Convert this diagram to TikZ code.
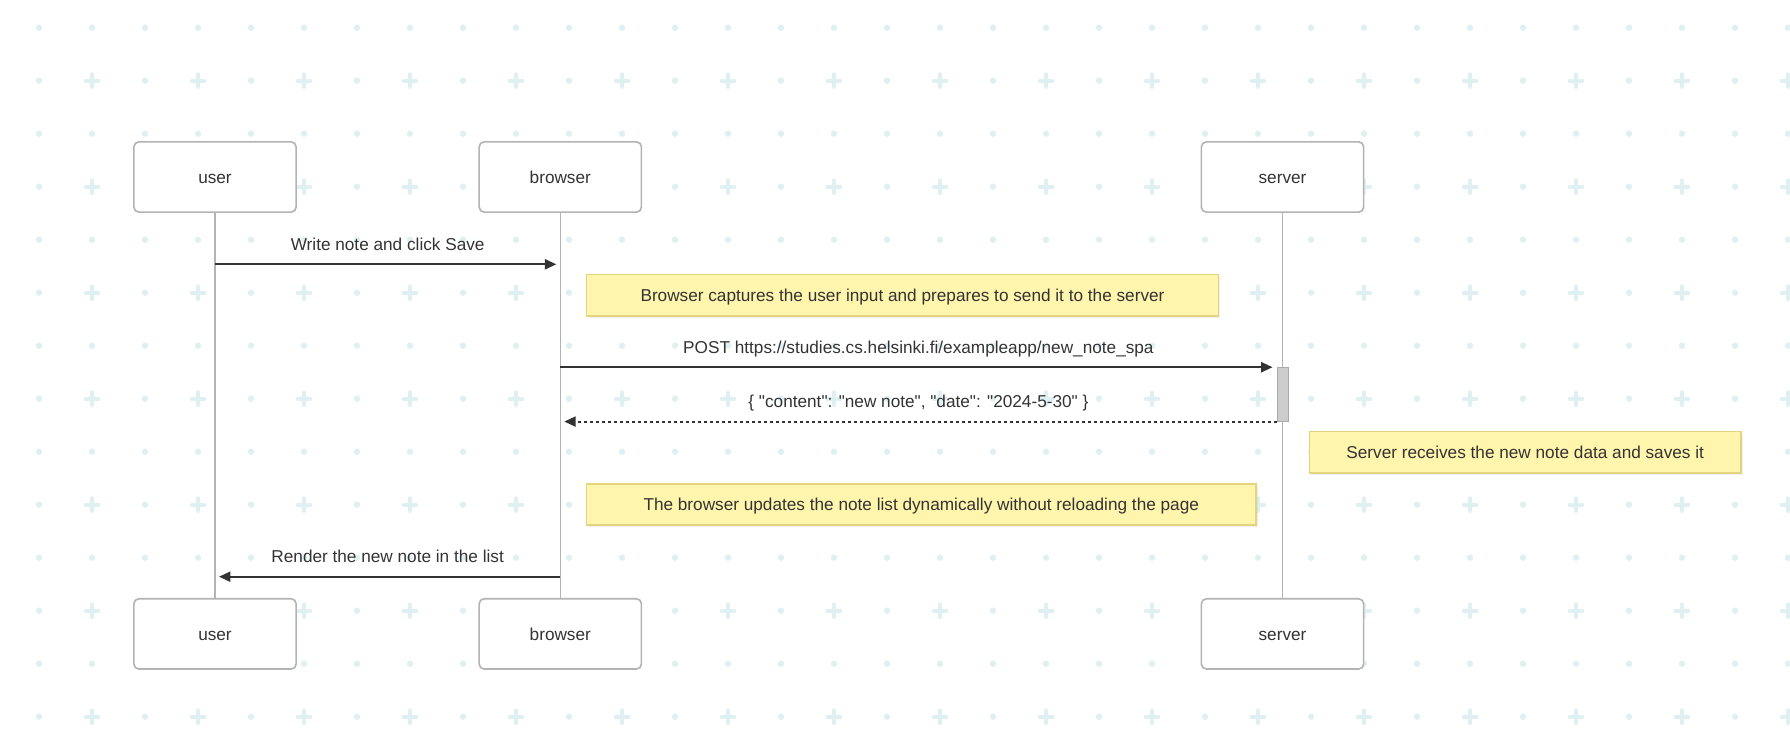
\documentclass[tikz,border=0pt]{standalone}
\usepackage{fontspec}
\setmainfont{Liberation Sans}[Ligatures=TeXOff]
\usetikzlibrary{arrows.meta,shadows}

\definecolor{gridc}{RGB}{223,240,243}
\definecolor{boxline}{RGB}{179,179,179}
\definecolor{ink}{RGB}{51,51,51}
\definecolor{notefill}{RGB}{255,245,173}
\definecolor{noteline}{RGB}{228,212,128}
\definecolor{actfill}{RGB}{204,204,204}
\definecolor{actline}{RGB}{170,170,170}

\begin{document}
\begin{tikzpicture}[x=0.75pt,y=-0.75pt,
  font=\fontsize{12.9}{15}\selectfont,
  actor/.style={draw=boxline, line width=1.2pt, fill=white, rounded corners=3.75pt,
    minimum width=121.7pt, minimum height=52.7pt, text=ink,
    text height=9.4pt, text depth=0pt, inner sep=0pt},
  note/.style={draw=noteline, line width=1.1pt, fill=notefill, text=ink,
    text height=9.4pt, text depth=0pt, inner sep=0pt,
    drop shadow={opacity=0.12, shadow xshift=1.5pt, shadow yshift=-1.5pt}},
  life/.style={draw=boxline, line width=1.1pt},
  activation/.style={draw=actline, fill=actfill, line width=0.75pt,
    minimum width=8.25pt, minimum height=40pt, inner sep=0pt},
  msg/.style={draw=ink, line width=1.5pt, -{Triangle[length=8.5pt,width=7.5pt]}, shorten >=3pt},
  reply/.style={msg, dash pattern=on 2.25pt off 2.25pt},
  msglabel/.style={text=ink, anchor=base, yshift=10.5pt, inner sep=0pt},
  dotmark/.style={fill=gridc},
  crossmark/.style={draw=gridc, line width=3pt, line cap=round}
]
% canvas
\fill[white] (0,0) rectangle (1790,742);
\useasboundingbox (0,0) rectangle (1790,742);

% background pattern of dots and crosses
\foreach \j in {0,2,...,12}
  \foreach \i in {0,...,33}
    \fill[dotmark] (39+53*\i, 27.7+53*\j) circle[radius=2.4pt];
\foreach \j in {1,3,...,13}{
  \foreach \i in {0,2,...,32}
    \fill[dotmark] (39+53*\i, 27.7+53*\j) circle[radius=2.4pt];
  \foreach \i in {1,3,...,33}
    \draw[crossmark] (39+53*\i-6.3, 27.7+53*\j) -- (39+53*\i+6.3, 27.7+53*\j)
                     (39+53*\i, 27.7+53*\j-6.3) -- (39+53*\i, 27.7+53*\j+6.3);
}

% participants
\node[actor] (userTop)    at (215,177)    {user};
\node[actor] (browserTop) at (560.3,177)  {browser};
\node[actor] (serverTop)  at (1282.5,177) {server};
\node[actor] (userBot)    at (215,633.9)    {user};
\node[actor] (browserBot) at (560.3,633.9)  {browser};
\node[actor] (serverBot)  at (1282.5,633.9) {server};

% lifelines
\draw[life] (userTop.south) -- (userBot.north);
\draw[life] (browserTop.south) -- (browserBot.north);
\draw[life] (serverTop.south) -- (serverBot.north);

% notes
\node[note, minimum width=473.7pt, minimum height=31.3pt] (note1) at (902.5,295.2)
  {Browser captures the user input and prepares to send it to the server};
\node[note, minimum width=323.7pt, minimum height=31pt] (note2) at (1525.2,452.3)
  {Server receives the new note data and saves it};
\node[note, minimum width=501.8pt, minimum height=30.75pt] (note3) at (921.25,504.5)
  {The browser updates the note list dynamically without reloading the page};

% activation on the server
\node[activation] (act) at (1282.5,394.4) {};

% messages
\draw[msg] (userTop.south |- 0,264.3) --
  node[msglabel] {Write note and click Save} (browserTop.south |- 0,264.3);
\draw[msg] (browserTop.south |- act.north west) --
  node[msglabel] {POST https://studies.cs.helsinki.fi/exampleapp/new\_note\_spa} (act.north west);
\draw[reply] (act.south west) --
  node[msglabel] {\{ "content": "new note", "date": "2024-5-30" \}} (browserTop.south |- act.south west);
\draw[msg] (browserTop.south |- 0,576.7) --
  node[msglabel] {Render the new note in the list} (userTop.south |- 0,576.7);
\end{tikzpicture}
\end{document}
